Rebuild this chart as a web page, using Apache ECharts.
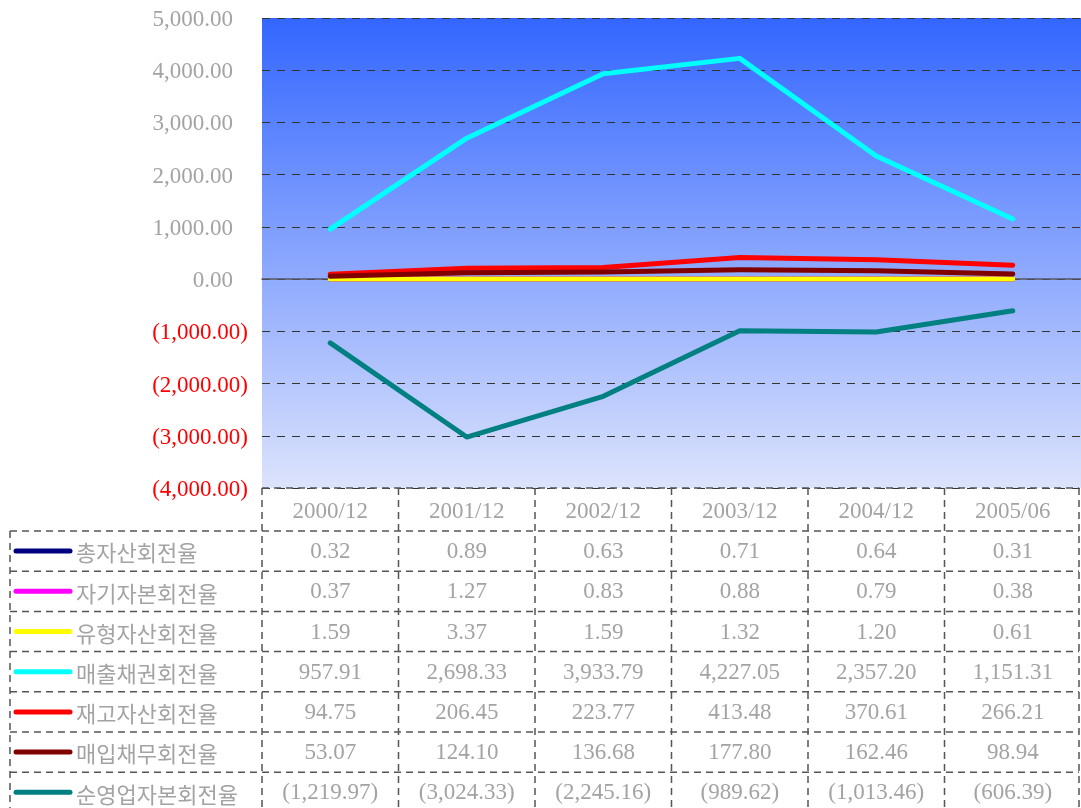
<!DOCTYPE html>
<html>
<head>
<meta charset="utf-8">
<script src="https://cdn.jsdelivr.net/npm/echarts@6/dist/echarts.min.js"></script>
<style>
html,body{margin:0;padding:0;background:#fff;}
#main{width:1081px;height:808px;}
</style>
</head>
<body>
<div id="main"></div>
<script>
// 기간
var periods = ['2000/12', '2001/12', '2002/12', '2003/12', '2004/12', '2005/06'];
// 지표명
var names = ['총자산회전율', '자기자본회전율', '유형자산회전율', '매출채권회전율', '재고자산회전율', '매입채무회전율', '순영업자본회전율'];
var colors = ['#000080', '#ff00ff', '#ffff00', '#00ffff', '#ff0000', '#800000', '#008080'];

var totalAsset = [0.32, 0.89, 0.63, 0.71, 0.64, 0.31];
var equity     = [0.37, 1.27, 0.83, 0.88, 0.79, 0.38];
var tangible   = [1.59, 3.37, 1.59, 1.32, 1.20, 0.61];
var receivable = [957.91, 2698.33, 3933.79, 4227.05, 2357.20, 1151.31];
var inventory  = [94.75, 206.45, 223.77, 413.48, 370.61, 266.21];
var payable    = [53.07, 124.10, 136.68, 177.80, 162.46, 98.94];
var workingCap = [-1219.97, -3024.33, -2245.16, -989.62, -1013.46, -606.39];

var allData = [totalAsset, equity, tangible, receivable, inventory, payable, workingCap];

var numFont = '"Liberation Serif", "DejaVu Serif", serif';
var krFont = '"Noto Sans CJK KR", sans-serif';
var gray = '#a3a3a3';

// 회계 형식 (음수는 괄호)
function fmt(v) {
	var s = Math.abs(v).toLocaleString('en-US', {minimumFractionDigits: 2, maximumFractionDigits: 2});
	return v < 0 ? '(' + s + ')' : s;
}

var myChart = echarts.init(document.getElementById('main'));

var series = [];
for (var i = 0; i < names.length; i++) {
	series.push({
		name: names[i],
		type: 'line',
		data: allData[i],
		symbol: 'none',
		lineStyle: {color: colors[i], width: 5, cap: 'round', join: 'round'},
		itemStyle: {color: colors[i]}
	});
}

myChart.setOption({
	animation: false,
	grid: {
		left: 262, right: 0, top: 18, bottom: 320,
		show: true,
		borderWidth: 0,
		backgroundColor: new echarts.graphic.LinearGradient(0, 0, 0, 1, [
			{offset: 0, color: '#3366ff'},
			{offset: 1, color: '#dce3fc'}
		])
	},
	xAxis: {
		type: 'category',
		data: periods,
		boundaryGap: true,
		axisLine: {onZero: true, lineStyle: {color: '#555566', width: 1.5}},
		axisTick: {show: false},
		axisLabel: {show: false}
	},
	yAxis: {
		type: 'value',
		min: -4000, max: 5000, interval: 1000,
		axisLine: {show: false},
		axisTick: {show: false},
		splitLine: {lineStyle: {color: '#333333', type: [8, 7], width: 1}},
		axisLabel: {
			margin: 14,
			formatter: function (v) {
				return v < 0 ? '{n|' + fmt(v) + '}' : '{p|' + fmt(v) + '}';
			},
			rich: {
				p: {color: gray, fontSize: 23, fontFamily: numFont, padding: [4, 15, 0, 0]},
				n: {color: '#ff0000', fontSize: 23, fontFamily: numFont, padding: [4, 0, 0, 0]}
			}
		}
	},
	series: series
});

// 데이터 표
var headTop = 488, rowTop = 531, rowH = 40.2, tableBottom = 808, legendLeft = 10;
var xs = [];
for (var i = 0; i < periods.length; i++) xs.push(myChart.convertToPixel({xAxisIndex: 0}, i));
var colW = xs[1] - xs[0];
var gridRight = xs[xs.length - 1] + colW / 2;

var dash = {stroke: '#555555', lineWidth: 1.5, lineDash: [7, 5]};
var els = [];
function hline(y, x1, x2) {
	els.push({type: 'line', shape: {x1: x1, y1: y, x2: x2, y2: y}, style: dash, silent: true});
}
function vline(x, y1, y2) {
	els.push({type: 'line', shape: {x1: x, y1: y1, x2: x, y2: y2}, style: dash, silent: true});
}

hline(headTop, xs[0] - colW / 2, gridRight - 2);
for (var r = 0; r < names.length; r++) hline(rowTop + r * rowH, legendLeft, gridRight - 2);
vline(legendLeft, rowTop, tableBottom);
for (var c = 0; c < periods.length; c++) vline(xs[c] - colW / 2, headTop, tableBottom);
vline(gridRight - 2, headTop, tableBottom);

// 헤더
for (var c = 0; c < periods.length; c++) {
	els.push({type: 'text', style: {
		text: periods[c], x: xs[c], y: (headTop + rowTop) / 2 + 2,
		align: 'center', verticalAlign: 'middle',
		fill: gray, fontSize: 23, fontFamily: numFont
	}});
}

// 행
for (var r = 0; r < names.length; r++) {
	var cy = rowTop + r * rowH + rowH / 2;
	els.push({type: 'line', shape: {x1: 16, y1: cy, x2: 70, y2: cy},
		style: {stroke: colors[r], lineWidth: 5, lineCap: 'round'}});
	els.push({type: 'text', style: {
		text: names[r], x: 76, y: cy + 2,
		align: 'left', verticalAlign: 'middle',
		fill: gray, fontSize: 22, fontFamily: krFont
	}});
	for (var c = 0; c < periods.length; c++) {
		els.push({type: 'text', style: {
			text: fmt(allData[r][c]), x: xs[c], y: cy + 1,
			align: 'center', verticalAlign: 'middle',
			fill: gray, fontSize: 23, fontFamily: numFont
		}});
	}
}

myChart.setOption({graphic: {elements: els}});
</script>
</body>
</html>
